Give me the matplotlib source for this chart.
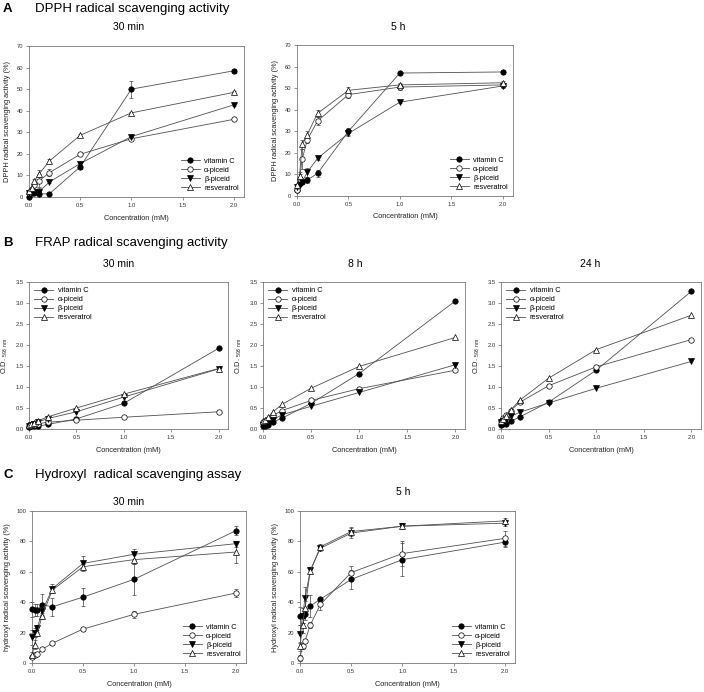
import numpy as np
import matplotlib.pyplot as plt

plt.rcParams['font.family'] = ['Liberation Sans', 'DejaVu Sans']

conc = [0, 0.025, 0.05, 0.1, 0.2, 0.5, 1.0, 2.0]
labels = ['vitamin C', 'α-piceid', 'β-piceid', 'resveratrol']

# A: DPPH, 30 min
dpph30_vitc = [0, 2, 2, 1.5, 1.5, 14, 50, 58.5]
dpph30_alpha = [2, 3.5, 5.5, 7.5, 11.3, 19.8, 27, 36]
dpph30_beta = [2, 2.5, 2.5, 2.5, 7, 15.5, 28, 42.7]
dpph30_res = [2.8, 4.2, 7.4, 10.8, 16.7, 28.6, 39, 48.5]
dpph30_vitc_err = [0.3, 0.8, 0.8, 0.8, 0.8, 1, 4, 0.8]
dpph30_alpha_err = [0.5, 0.8, 1, 3, 1.5, 0.5, 0.5, 0.5]
dpph30_beta_err = [0.5, 0.5, 0.5, 1.5, 0.5, 0.8, 0.8, 0.5]
dpph30_res_err = [0.5, 0.5, 1, 1.5, 0.8, 0.5, 0.5, 0.5]

# A: DPPH, 5 h
dpph5_vitc = [3, 5.9, 6.6, 7.4, 10.5, 30, 57, 57.5]
dpph5_alpha = [3, 8, 17, 26, 34.8, 47, 50.5, 51.5]
dpph5_beta = [4.3, 5, 6.6, 11, 17.5, 29, 43.5, 51]
dpph5_res = [5, 9.5, 24, 28.5, 38.3, 49, 51.5, 52.5]
dpph5_vitc_err = [0.5, 1, 1, 1.5, 1.5, 1.5, 0.5, 1]
dpph5_alpha_err = [0.5, 2, 4.6, 1.5, 2, 1.5, 1.5, 1]
dpph5_beta_err = [0.5, 0.5, 1, 2, 0.8, 1, 0.5, 1]
dpph5_res_err = [0.5, 1.5, 2, 1.5, 1.5, 1.5, 1, 1]

# B: FRAP
frap30_vitc = [0.05, 0.06, 0.06, 0.07, 0.11, 0.24, 0.61, 1.92]
frap30_alpha = [0.08, 0.09, 0.1, 0.13, 0.16, 0.21, 0.28, 0.41]
frap30_beta = [0.08, 0.1, 0.13, 0.17, 0.25, 0.41, 0.76, 1.43]
frap30_res = [0.1, 0.12, 0.15, 0.2, 0.29, 0.5, 0.83, 1.44]

frap8_vitc = [0.06, 0.08, 0.1, 0.16, 0.26, 0.61, 1.32, 3.05]
frap8_alpha = [0.16, 0.18, 0.25, 0.32, 0.44, 0.68, 0.96, 1.4]
frap8_beta = [0.09, 0.11, 0.14, 0.22, 0.34, 0.54, 0.87, 1.53]
frap8_res = [0.18, 0.22, 0.28, 0.4, 0.59, 0.97, 1.49, 2.18]

frap24_vitc = [0.09, 0.11, 0.13, 0.18, 0.29, 0.64, 1.4, 3.28]
frap24_alpha = [0.2, 0.26, 0.33, 0.44, 0.64, 1.03, 1.48, 2.13]
frap24_beta = [0.16, 0.19, 0.22, 0.3, 0.4, 0.62, 0.97, 1.61]
frap24_res = [0.2, 0.25, 0.32, 0.45, 0.69, 1.21, 1.89, 2.71]

# C: hydroxyl, 30 min
oh30_vitc = [35.2, 35, 34.8, 38.3, 37, 43.3, 55, 87]
oh30_alpha = [4, 5, 6, 9, 13, 22.3, 32, 46]
oh30_beta = [17, 20, 22.7, 34, 49, 65.5, 71.5, 78.5]
oh30_res = [5, 12, 19.5, 31, 48, 63.3, 68, 73]
oh30_vitc_err = [5, 4, 4, 7, 6, 6, 10, 3]
oh30_alpha_err = [1, 1, 1, 1, 1, 1, 2.5, 2.5]
oh30_beta_err = [5, 3, 2, 3, 3, 5, 3.5, 2]
oh30_res_err = [2, 3, 2, 2, 2, 2, 3, 7]

# C: hydroxyl, 5 h
oh5_vitc = [31, 31, 32.5, 37.5, 42, 55, 68, 79.5]
oh5_alpha = [3.5, 11, 14.5, 25, 38.6, 59.5, 72, 82]
oh5_beta = [19, 31, 43, 61, 75.5, 85.5, 90, 92]
oh5_res = [11, 25, 36.5, 60.5, 76.5, 86.5, 90, 93.5]
oh5_vitc_err = [6, 5, 4, 7, 1, 6, 11, 3]
oh5_alpha_err = [2, 2, 1, 2, 4, 4, 8, 5]
oh5_beta_err = [6, 5, 7, 2, 2, 3, 2, 2]
oh5_res_err = [3, 5, 4, 2, 2, 3, 2, 2]

styles = [dict(marker='o', mfc='black'),
          dict(marker='o', mfc='white'),
          dict(marker='v', mfc='black'),
          dict(marker='^', mfc='white')]

W, H = 704, 692
fig = plt.figure(figsize=(W / 100, H / 100), dpi=100)


def make_ax(x0, y0, x1, y1):
    return fig.add_axes([x0 / W, 1 - y1 / H, (x1 - x0) / W, (y1 - y0) / H])


def panel(ax, series, errs, ymax, ystep, ylabel, loc, fmt):
    for i, ys in enumerate(series):
        st = styles[i]
        ms = 3.9 if st['marker'] == 'o' else 3.7
        if errs is not None:
            ax.errorbar(conc, ys, yerr=errs[i], fmt='none', ecolor='#444444',
                        elinewidth=0.5, capsize=1.6, capthick=0.5, zorder=2,
                        clip_on=False)
        ax.plot(conc, ys, color='#505050', lw=0.6, marker=st['marker'],
                mfc=st['mfc'], mec='black', mew=0.5, ms=ms, label=labels[i],
                zorder=3, clip_on=False)
    ax.set_xlim(0, 2.1)
    ax.set_ylim(0, ymax)
    ax.set_xticks([0, 0.5, 1.0, 1.5, 2.0])
    ax.set_xticklabels(['0.0', '0.5', '1.0', '1.5', '2.0'])
    yt = np.arange(0, ymax + ystep / 2, ystep)
    ax.set_yticks(yt)
    ax.set_yticklabels([fmt.format(v) for v in yt])
    ax.tick_params(labelsize=4.2, length=2, width=0.5, color='#666666',
                   pad=2, labelcolor='#333333')
    for s in ax.spines.values():
        s.set_linewidth(0.6)
        s.set_color('#777777')
    ax.set_xlabel('Concentration (mM)', fontsize=5.3, labelpad=5, color='#222222')
    ax.set_ylabel(ylabel, fontsize=5.3, labelpad=4, color='#222222')
    ax.legend(loc=loc, frameon=False, fontsize=5.3, handlelength=2.6,
              labelspacing=0.25, borderaxespad=0.3, handletextpad=0.6)


dpph_lab = 'DPPH radical scavenging activity (%)'
od_lab = 'O.D. $_{\\mathregular{593\\ nm}}$'

ax = make_ax(29, 46, 244, 197)
panel(ax, [dpph30_vitc, dpph30_alpha, dpph30_beta, dpph30_res],
      [dpph30_vitc_err, dpph30_alpha_err, dpph30_beta_err, dpph30_res_err],
      70, 10, dpph_lab, 'lower right', '{:.0f}')
ax = make_ax(297, 45, 513, 196)
panel(ax, [dpph5_vitc, dpph5_alpha, dpph5_beta, dpph5_res],
      [dpph5_vitc_err, dpph5_alpha_err, dpph5_beta_err, dpph5_res_err],
      70, 10, dpph_lab, 'lower right', '{:.0f}')

ax = make_ax(29, 282, 228, 429)
panel(ax, [frap30_vitc, frap30_alpha, frap30_beta, frap30_res], None,
      3.5, 0.5, od_lab, 'upper left', '{:.1f}')
ax = make_ax(263, 282, 465, 429)
panel(ax, [frap8_vitc, frap8_alpha, frap8_beta, frap8_res], None,
      3.5, 0.5, od_lab, 'upper left', '{:.1f}')
ax = make_ax(501, 282, 701, 429)
panel(ax, [frap24_vitc, frap24_alpha, frap24_beta, frap24_res], None,
      3.5, 0.5, od_lab, 'upper left', '{:.1f}')

ax = make_ax(32, 511, 246, 663)
panel(ax, [oh30_vitc, oh30_alpha, oh30_beta, oh30_res],
      [oh30_vitc_err, oh30_alpha_err, oh30_beta_err, oh30_res_err],
      100, 20, 'hydroxyl radical scavenging activity (%)', 'lower right', '{:.0f}')
ax = make_ax(300, 511, 515, 663)
panel(ax, [oh5_vitc, oh5_alpha, oh5_beta, oh5_res],
      [oh5_vitc_err, oh5_alpha_err, oh5_beta_err, oh5_res_err],
      100, 20, 'Hydroxyl radical scavenging activity (%)', 'lower right', '{:.0f}')


def ftext(x, y, s, **kw):
    fig.text(x / W, 1 - y / H, s, va='center', **kw)


ftext(3, 9, 'A', fontsize=9.5, fontweight='bold')
ftext(35, 9, 'DPPH radical scavenging activity', fontsize=9.5)
ftext(129, 27, '30 min', fontsize=7.5, ha='center')
ftext(398, 27, '5 h', fontsize=7.5, ha='center')

ftext(3, 243, 'B', fontsize=9.5, fontweight='bold')
ftext(35, 243, 'FRAP radical scavenging activity', fontsize=9.5)
ftext(119, 264, '30 min', fontsize=7.5, ha='center')
ftext(355, 264, '8 h', fontsize=7.5, ha='center')
ftext(590, 264, '24 h', fontsize=7.5, ha='center')

ftext(3, 475, 'C', fontsize=9.5, fontweight='bold')
ftext(35, 475, 'Hydroxyl  radical scavenging assay', fontsize=9.5)
ftext(129, 502, '30 min', fontsize=7.5, ha='center')
ftext(403, 492, '5 h', fontsize=7.5, ha='center')

fig.savefig('out.png', dpi=100)
